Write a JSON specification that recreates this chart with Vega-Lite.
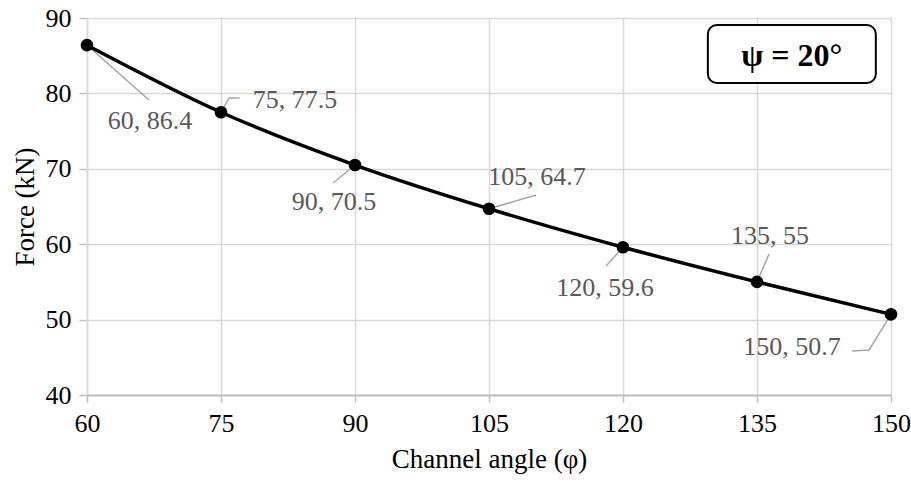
{
  "$schema": "https://vega.github.io/schema/vega-lite/v6.json",
  "width": 804,
  "height": 377,
  "autosize": {"type": "none"},
  "padding": {"left": 87, "top": 18, "right": 20, "bottom": 87},
  "background": "white",
  "config": {
    "font": "Times New Roman, Liberation Serif, serif",
    "view": {"stroke": null},
    "text": {"font": "Times New Roman, Liberation Serif, serif"},
    "axis": {
      "labelFont": "Times New Roman, Liberation Serif, serif",
      "titleFont": "Times New Roman, Liberation Serif, serif",
      "labelColor": "#000000",
      "titleColor": "#000000",
      "titleFontWeight": "normal",
      "gridColor": "#d9d9d9",
      "gridWidth": 1.5,
      "tickColor": "#bfbfbf",
      "tickWidth": 1.5
    }
  },
  "datasets": {
    "points": [
      {"x": 60, "y": 86.4},
      {"x": 75, "y": 77.5},
      {"x": 90, "y": 70.5},
      {"x": 105, "y": 64.7},
      {"x": 120, "y": 59.6},
      {"x": 135, "y": 55},
      {"x": 150, "y": 50.7}
    ],
    "labels": [
      {"x": 67.05, "y": 76.34, "label": "60, 86.4"},
      {"x": 83.28, "y": 79.12, "label": "75, 77.5"},
      {"x": 87.65, "y": 65.6, "label": "90, 70.5"},
      {"x": 110.38, "y": 68.91, "label": "105, 64.7"},
      {"x": 117.99, "y": 54.19, "label": "120, 59.6"},
      {"x": 136.46, "y": 61.09, "label": "135, 55"},
      {"x": 138.92, "y": 46.37, "label": "150, 50.7"}
    ],
    "leaders": [
      {"id": "a", "o": 1, "x": 60, "y": 86.4},
      {"id": "a", "o": 2, "x": 66.94, "y": 79.12},
      {"id": "b", "o": 1, "x": 75, "y": 77.5},
      {"id": "b", "o": 2, "x": 75.9, "y": 79.4},
      {"id": "b", "o": 3, "x": 77.1, "y": 79.4},
      {"id": "c", "o": 1, "x": 90, "y": 70.5},
      {"id": "c", "o": 2, "x": 87.54, "y": 68.12},
      {"id": "d", "o": 1, "x": 105, "y": 64.7},
      {"id": "d", "o": 2, "x": 110.26, "y": 66.53},
      {"id": "e", "o": 1, "x": 120, "y": 59.6},
      {"id": "e", "o": 2, "x": 118.1, "y": 57.11},
      {"id": "f", "o": 1, "x": 135, "y": 55},
      {"id": "f", "o": 2, "x": 136.35, "y": 58.7},
      {"id": "g", "o": 1, "x": 150, "y": 50.7},
      {"id": "g", "o": 2, "x": 147.54, "y": 45.97},
      {"id": "g", "o": 3, "x": 145.63, "y": 45.84}
    ],
    "box": [
      {"x": 129.5, "x2": 148.3, "y": 89.07, "y2": 81.38, "tx": 138.9, "ty": 84.9, "label": "ψ = 20°"}
    ]
  },
  "encoding": {
    "x": {
      "field": "x",
      "type": "quantitative",
      "scale": {"domain": [60, 150], "nice": false, "zero": false},
      "axis": {
        "title": "Channel angle (φ)",
        "values": [60, 75, 90, 105, 120, 135, 150],
        "labelFont": "Times New Roman, Liberation Serif, serif",
        "titleFont": "Times New Roman, Liberation Serif, serif",
        "labelFontSize": 26,
        "titleFontSize": 27,
        "tickSize": 7,
        "labelPadding": 8,
        "titlePadding": 10,
        "domainColor": "#bfbfbf",
        "domainWidth": 2,
        "labelFlush": false
      }
    },
    "y": {
      "field": "y",
      "type": "quantitative",
      "scale": {"domain": [40, 90], "nice": false, "zero": false},
      "axis": {
        "title": "Force (kN)",
        "values": [40, 50, 60, 70, 80, 90],
        "labelFont": "Times New Roman, Liberation Serif, serif",
        "titleFont": "Times New Roman, Liberation Serif, serif",
        "labelFontSize": 26,
        "titleFontSize": 27,
        "tickSize": 8,
        "labelPadding": 8,
        "titlePadding": 6,
        "domainColor": "#d9d9d9",
        "domainWidth": 1.5,
        "labelFlush": false
      }
    }
  },
  "layer": [
    {
      "data": {"name": "leaders"},
      "mark": {"type": "line", "color": "#a6a6a6", "strokeWidth": 1.5},
      "encoding": {
        "detail": {"field": "id"},
        "order": {"field": "o", "type": "quantitative"}
      }
    },
    {
      "data": {"name": "points"},
      "mark": {"type": "line", "color": "#000000", "strokeWidth": 3.5, "interpolate": "monotone"},
      "encoding": {}
    },
    {
      "data": {"name": "points"},
      "mark": {"type": "circle", "color": "#000000", "opacity": 1, "size": 160},
      "encoding": {}
    },
    {
      "data": {"name": "labels"},
      "mark": {"type": "text", "fontSize": 26, "color": "#595959", "align": "center", "baseline": "middle", "font": "Times New Roman, Liberation Serif, serif"},
      "encoding": {"text": {"field": "label"}}
    },
    {
      "data": {"name": "box"},
      "mark": {"type": "rect", "fill": "white", "stroke": "#000000", "strokeWidth": 2, "cornerRadius": 9},
      "encoding": {
        "x2": {"field": "x2"},
        "y2": {"field": "y2"}
      }
    },
    {
      "data": {"name": "box"},
      "mark": {"type": "text", "fontSize": 32, "fontWeight": "bold", "color": "#000000", "align": "center", "baseline": "middle", "font": "Times New Roman, Liberation Serif, serif"},
      "encoding": {
        "x": {"field": "tx", "type": "quantitative"},
        "y": {"field": "ty", "type": "quantitative"},
        "text": {"field": "label"}
      }
    }
  ]
}
